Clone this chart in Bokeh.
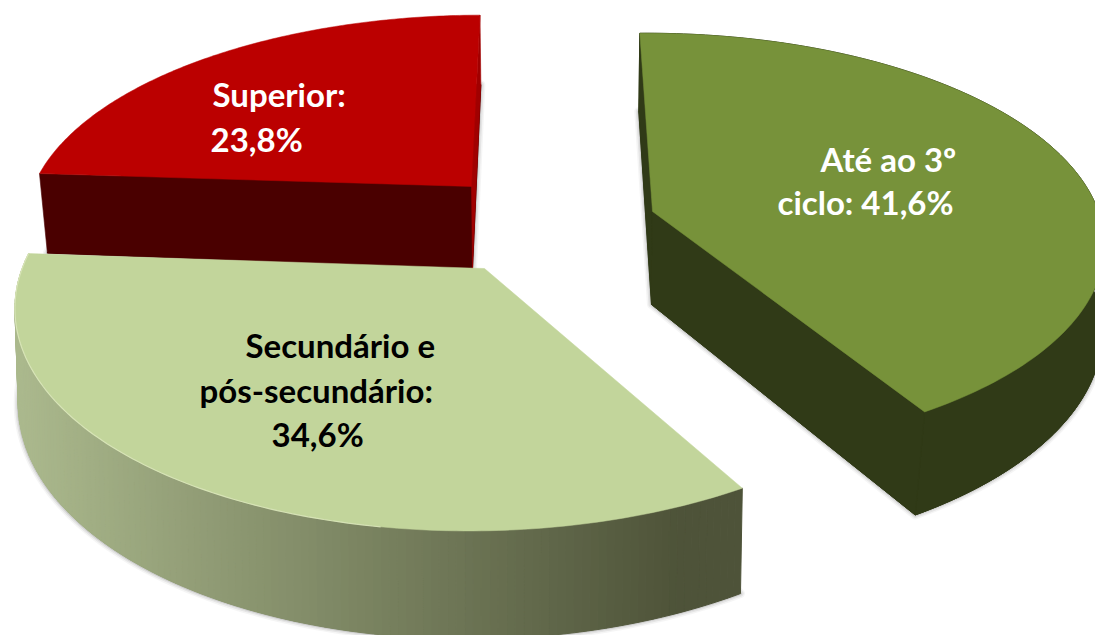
import numpy as np
from bokeh.plotting import figure
from bokeh.core.properties import value
from bokeh.embed import file_html
from bokeh.resources import INLINE

# ---- data
categories = ["Até ao 3º ciclo", "Secundário e pós-secundário", "Superior"]
shares = [41.6, 34.6, 23.8]

# ---- label lines (text, left edge px, middle px, colour)
label_lines = [
    ("Até ao 3º", 820, 158, "#ffffff"),
    ("ciclo: 41,6%", 777, 201, "#ffffff"),
    ("Superior:", 212, 93, "#ffffff"),
    ("23,8%", 210, 138, "#ffffff"),
    ("Secundário  e", 245, 344, "#000000"),
    ("pós-secundário:", 199, 389, "#000000"),
    ("34,6%", 271, 433, "#000000"),
]

START = -2.0
W, H = 1095, 635
p = figure(width=W, height=H, x_range=(0, W), y_range=(H, 0),
           output_backend="svg", toolbar_location=None, min_border=0,
           background_fill_color="white", border_fill_color="white")
p.axis.visible = False
p.grid.visible = False
p.outline_line_color = None

# perspective disc: apex, radii, tilt, side depth
GEOM = {
    0: dict(ax=652, ay=211, R=447, Ry=205, k=0.15, s=1, t=3, D=90, Da=93, dx0=-1, sc=1.0, ex=10),
    1: dict(ax=484, ay=268, R=460, Ry=223, k=0.15, s=24, t=6, D=92, Da=92, dx0=0, sc=0.993, ex=0),
    2: dict(ax=471, ay=186, R=436, Ry=197, k=0.15, s=25, t=5, D=80, Da=82, dx0=1, sc=0.984, ex=0),
}

ends = np.cumsum([0] + shares) / sum(shares) * 360 + START


def rim(g, deg):
    th = np.radians(deg)
    sn, c = np.sin(th), np.cos(th)
    w = 1 + g["k"] * c
    X = (g["R"] * sn + g["s"] * c) / w
    Y = (-g["Ry"] * c + g["t"] * sn) / w
    tx, ty = g["ax"] + X, g["ay"] + Y
    lx = g["ax"] + g["dx0"] + X * g["sc"] + g["ex"] * np.minimum(c, 0)
    ly = g["ay"] + Y + g["D"] / w
    return tx, ty, lx, ly


def shadow(xs, ys):
    for lw, a in ((9, 0.06), (6, 0.10), (3, 0.16)):
        p.patch(xs, ys, fill_color="#555555", fill_alpha=0.2, line_color="#555555",
                line_width=lw, line_alpha=a, line_join="round")


def slice_parts(i, n=140):
    g = GEOM[i]
    deg = np.linspace(ends[i], ends[i + 1], n)
    tx, ty, lx, ly = rim(g, deg)
    apex = (g["ax"], g["ay"])
    apex_l = (g["ax"] + g["dx0"], g["ay"] + g["Da"])
    return deg, tx, ty, lx, ly, apex, apex_l


def lower_face(apex_l, lx, ly):
    return np.r_[apex_l[0], lx], np.r_[apex_l[1], ly]


def top_face(apex, tx, ty):
    return np.r_[apex[0], tx], np.r_[apex[1], ty]


def quad(a, b, c, d, color):
    p.patch([a[0], b[0], c[0], d[0]], [a[1], b[1], c[1], d[1]],
            fill_color=color, line_color=color, line_width=0.6)


# ---- Superior (red)
deg, tx, ty, lx, ly, apex, apex_l = slice_parts(2)
shadow(*lower_face(apex_l, lx, ly))
p.patch(*lower_face(apex_l, lx, ly), fill_color="#4a0000", line_color="#4a0000")
quad(apex, (tx[0], ty[0]), (lx[0], ly[0]), apex_l, "#4a0000")
quad(apex, (tx[-1], ty[-1]), (lx[-1], ly[-1]), apex_l, "#a00000")
p.patch(*top_face(apex, tx, ty), fill_color="#bb0000", line_color="#bb0000", line_width=0.5)

# ---- Até ao 3º ciclo (olive)
deg, tx, ty, lx, ly, apex, apex_l = slice_parts(0)
dark = "#303a17"
shadow(*lower_face(apex_l, lx, ly))
p.patch(*lower_face(apex_l, lx, ly), fill_color=dark, line_color=dark)
p.patch(np.r_[tx, lx[::-1]], np.r_[ty, ly[::-1]], fill_color=dark, line_color=dark)
quad(apex, (tx[0], ty[0]), (lx[0], ly[0]), apex_l, dark)
quad(apex, (tx[-1], ty[-1]), (lx[-1], ly[-1]), apex_l, dark)
p.patch(*top_face(apex, tx, ty), fill_color="#77923a", line_color="#77923a", line_width=0.5)

# ---- Secundário e pós-secundário (pale green, shaded side)
deg, tx, ty, lx, ly, apex, apex_l = slice_parts(1)
shadow(*lower_face(apex_l, lx, ly))
left_c, right_c = np.array([172, 186, 142]), np.array([78, 83, 57])
x0, x1 = tx.min(), 680.0
for j in range(len(deg) - 1):
    f = np.clip((0.5 * (tx[j] + tx[j + 1]) - x0) / (x1 - x0), 0, 1)
    r, gr, b = (left_c + (right_c - left_c) * f).astype(int)
    col = f"#{r:02x}{gr:02x}{b:02x}"
    p.patch([tx[j], tx[j + 1], lx[j + 1], lx[j]], [ty[j], ty[j + 1], ly[j + 1], ly[j]],
            fill_color=col, line_color=col, line_width=1)
p.patch(*top_face(apex, tx, ty), fill_color="#c2d59b", line_color="#c2d59b", line_width=0.5)
mask = deg > 188
p.line(tx[mask], ty[mask], line_color="#dfeabf", line_width=1.2, line_alpha=0.8)

# ---- labels
for txt, x, y, col in label_lines:
    p.text([x], [y], text=[txt], text_color=col, text_font=value("Lato"),
           text_font_size="33px", text_font_style="bold",
           text_align="left", text_baseline="middle")

open("out.html", "w").write(file_html(p, INLINE))
